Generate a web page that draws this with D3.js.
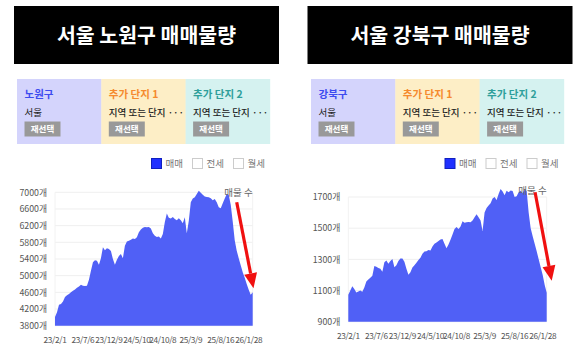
<!DOCTYPE html>
<html>
<head>
<meta charset="utf-8">
<script src="https://cdn.jsdelivr.net/npm/d3@7"></script>
<style>
  body { margin: 0; background: #fff; }
  svg { display: block; font-family: "Noto Sans CJK KR", "Noto Sans", sans-serif; }
</style>
</head>
<body>
<div id="chart"></div>
<script>
// values, ~100 samples per chart
const nowonValues = [
  4010, 4120, 4300, 4320, 4380, 4490, 4530, 4560, 4600, 4640,
  4670, 4710, 4740, 4780, 4760, 4750, 4760, 4900, 5120, 5320,
  5370, 5360, 5260, 5420, 5680, 5610, 5660, 5640, 5590, 5400,
  5260, 5380, 5470, 5520, 5420, 5720, 5820, 5840, 5860, 5890,
  5880, 5920, 6040, 6110, 6150, 6170, 6160, 6170, 6130, 6020,
  5960, 5930, 5940, 5890, 6000, 6290, 6490, 6390, 6370, 6410,
  6360, 6330, 6380, 6330, 6260, 6400, 6020, 6320, 6760, 6850,
  6880, 6960, 7040, 6990, 6940, 6900, 6890, 6880, 6860, 6810,
  6840, 6760, 6640, 6620, 6740, 6850, 6960, 6940, 6700, 6300,
  5850, 5600, 5420, 5250, 5080, 4950, 4800, 4660, 4540, 4600
];
const gangbukValues = [
  1073, 1100, 1128, 1110, 1088, 1094, 1100, 1092, 1120, 1158,
  1170, 1182, 1195, 1258, 1252, 1245, 1240, 1220, 1282, 1292,
  1272, 1290, 1302, 1250, 1262, 1290, 1305, 1306, 1285, 1240,
  1202, 1218, 1248, 1262, 1278, 1296, 1310, 1336, 1350, 1352,
  1360, 1356, 1382, 1400, 1408, 1418, 1428, 1430, 1400, 1372,
  1396, 1425, 1460, 1495, 1508, 1495, 1510, 1545, 1535, 1538,
  1540, 1538, 1550, 1570, 1590, 1570, 1550, 1482, 1600, 1630,
  1645, 1660, 1690, 1700, 1680, 1720, 1752, 1735, 1712, 1740,
  1730, 1742, 1738, 1700, 1705, 1730, 1740, 1725, 1748, 1738,
  1600, 1500, 1448, 1400, 1352, 1300, 1250, 1200, 1135, 1085
];
const dateLabels = ["23/2/1", "23/7/6", "23/12/9", "24/5/10", "24/10/8", "25/3/9", "25/8/16", "26/1/28"];
const dateIndex = [0, 14, 27, 41, 54, 68, 83, 97];
const nowonTicks = [3800, 4200, 4600, 5000, 5400, 5800, 6200, 6600, 7000];
const gangbukTicks = [900, 1100, 1300, 1500, 1700];
const titles = ["서울 노원구 매매물량", "서울 강북구 매매물량"];
const districts = ["노원구", "강북구"];
const slotNames = ["추가 단지 1", "추가 단지 2"];
const legendNames = ["매매", "전세", "월세"];

const W = 585, H = 353;
const svg = d3.select("#chart").append("svg").attr("width", W).attr("height", H);

function drawSide(opt) {
  const g = svg.append("g");

  // title block
  g.append("rect")
    .attr("x", opt.titleX).attr("y", 6)
    .attr("width", 265).attr("height", 58)
    .attr("fill", "#000");
  g.append("text")
    .attr("x", opt.titleX + 132.5).attr("y", 42.5)
    .attr("text-anchor", "middle")
    .attr("fill", "#fff")
    .attr("font-size", 20.5).attr("font-weight", 700)
    .text(opt.title);

  // selector strip (3 columns)
  const colW = 84.3;
  const cols = [
    { bg: "#d4d4fc", head: opt.district, headColor: "#3d4bf0", sub: "서울", subW: 400 },
    { bg: "#fdeec6", head: slotNames[0], headColor: "#f58a2e", sub: "지역 또는 단지 ···", subW: 500 },
    { bg: "#d5f2f0", head: slotNames[1], headColor: "#2e9f9b", sub: "지역 또는 단지 ···", subW: 500 }
  ];
  cols.forEach((c, i) => {
    const x0 = opt.stripX + i * colW;
    g.append("rect").attr("x", x0).attr("y", 79).attr("width", colW + 0.3).attr("height", 65).attr("fill", c.bg);
    g.append("text").attr("x", x0 + 7.5).attr("y", 98)
      .attr("font-size", 10.5).attr("font-weight", 700).attr("fill", c.headColor).text(c.head);
    g.append("text").attr("x", x0 + 7.5).attr("y", 115.5)
      .attr("font-size", 9.5).attr("font-weight", c.subW).attr("fill", "#222").text(c.sub);
    g.append("rect").attr("x", x0 + 7.5).attr("y", 121.5).attr("width", 36).attr("height", 15).attr("fill", "#999");
    g.append("text").attr("x", x0 + 25.5).attr("y", 132.2).attr("text-anchor", "middle")
      .attr("font-size", 8.5).attr("font-weight", 700).attr("fill", "#fff").text("재선택");
  });

  // legend
  legendNames.forEach((name, i) => {
    const lx = opt.legendX + i * 41;
    g.append("rect").attr("x", lx + 0.5).attr("y", 158.5).attr("width", 10).attr("height", 10)
      .attr("fill", i === 0 ? "#2030ff" : "#fff")
      .attr("stroke", i === 0 ? "#1020c0" : "#ccc").attr("stroke-width", 1);
    g.append("text").attr("x", lx + 14.5).attr("y", 167.3)
      .attr("font-size", 9.5).attr("fill", "#777").text(name);
  });

  // scales
  const x = d3.scaleLinear().domain([0, opt.values.length - 1]).range([opt.x0, opt.x1]);
  const y = d3.scaleLinear().domain(d3.extent(opt.ticks)).range([opt.yBottom, opt.yTop]);

  // grid
  g.selectAll(".grid").data(opt.ticks).join("line")
    .attr("x1", opt.x0).attr("x2", opt.x1)
    .attr("y1", d => y(d)).attr("y2", d => y(d))
    .attr("stroke", "#efefef").attr("stroke-width", 1);
  [opt.x0, opt.x1].forEach(xx => {
    g.append("line").attr("x1", xx).attr("x2", xx).attr("y1", opt.yTop).attr("y2", opt.yBottom)
      .attr("stroke", "#f2f2f2");
  });

  // y tick labels
  g.selectAll(".ylab").data(opt.ticks).join("text")
    .attr("x", opt.x0 - 8).attr("y", d => y(d) + 3.2)
    .attr("text-anchor", "end").attr("font-size", 8.8).attr("fill", "#555")
    .text(d => d + "개");

  // area
  const area = d3.area()
    .x((d, i) => x(i))
    .y0(y(opt.ticks[0]))
    .y1(d => y(d));
  g.append("path").datum(opt.values).attr("d", area).attr("fill", "#5060f6");

  // x labels (tight, like the original)
  g.selectAll(".xlab").data(dateLabels).join("text")
    .attr("x", (d, i) => x(dateIndex[i])).attr("y", opt.xLabelY)
    .attr("text-anchor", "middle").attr("font-size", 8.3)
    .attr("letter-spacing", -0.35).attr("fill", "#555")
    .text(d => d);

  // series name
  g.append("text").attr("x", opt.x1).attr("y", opt.nameY)
    .attr("text-anchor", "end").attr("font-size", 9.5).attr("fill", "#666").text("매물 수");

  // red arrow
  const ax0 = x(opt.arrow[0]), ay0 = y(opt.arrow[1]);
  const ax1 = x(opt.arrow[2]), ay1 = y(opt.arrow[3]);
  const ang = Math.atan2(ay1 - ay0, ax1 - ax0);
  const headL = 15, headW = 6.5;
  const bx = ax1 - headL * Math.cos(ang), by = ay1 - headL * Math.sin(ang);
  g.append("line").attr("x1", ax0).attr("y1", ay0).attr("x2", bx).attr("y2", by)
    .attr("stroke", "#f01010").attr("stroke-width", 3.2);
  const px = -Math.sin(ang), py = Math.cos(ang);
  g.append("path")
    .attr("d", `M${ax1},${ay1}L${bx + px * headW},${by + py * headW}L${bx - px * headW},${by - py * headW}Z`)
    .attr("fill", "#f01010");
}

drawSide({
  title: titles[0], district: districts[0],
  titleX: 14, stripX: 17, legendX: 151,
  values: nowonValues, ticks: nowonTicks,
  x0: 55, x1: 252.7, yTop: 192.3, yBottom: 325.7,
  xLabelY: 342.5, nameY: 195.5,
  arrow: [91, 6760, 99.4, 4700]
});
drawSide({
  title: titles[1], district: districts[1],
  titleX: 307.5, stripX: 311, legendX: 444.5,
  values: gangbukValues, ticks: gangbukTicks,
  x0: 348.3, x1: 546.7, yTop: 197, yBottom: 321.7,
  xLabelY: 338.5, nameY: 194,
  arrow: [93.2, 1730, 101.5, 1163]
});
</script>
</body>
</html>
